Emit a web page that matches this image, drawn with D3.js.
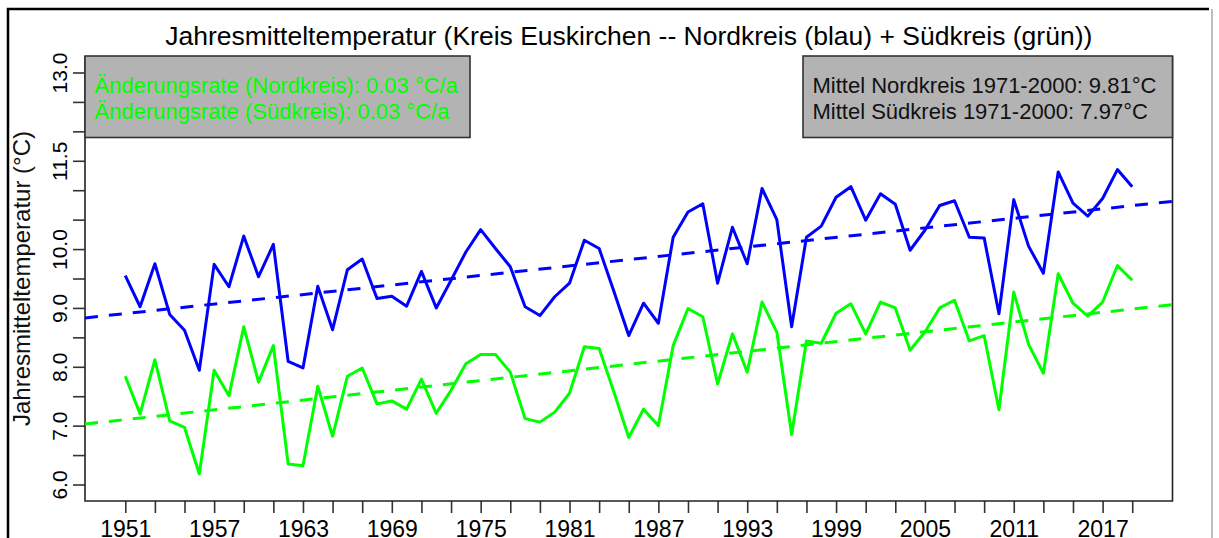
<!DOCTYPE html>
<html>
<head>
<meta charset="utf-8">
<script src="https://cdn.jsdelivr.net/npm/d3@7"></script>
<style>
body{margin:0;background:#fff;}
text{font-family:"Liberation Sans",Arial,sans-serif;}
</style>
</head>
<body>
<svg id="chart" width="1219" height="538"></svg>
<script>
// Jahresmittel
const years = d3.range(1951, 2020);
const nordkreis = [9.55, 9.02, 9.75, 8.89, 8.62, 7.94, 9.74, 9.36, 10.22, 9.53,
    10.08, 8.09, 7.98, 9.37, 8.63, 9.65, 9.83, 9.16, 9.20, 9.03,
    9.62, 9.00, 9.47, 9.95, 10.33, 10.01, 9.70, 9.02, 8.87, 9.19,
    9.42, 10.15, 10.01, 9.28, 8.53, 9.08, 8.74, 10.20, 10.63, 10.77,
    9.42, 10.37, 9.75, 11.03, 10.50, 8.68, 10.20, 10.39, 10.88, 11.06,
    10.49, 10.94, 10.76, 9.98, 10.32, 10.74, 10.82, 10.20, 10.19, 8.90,
    10.84, 10.05, 9.59, 11.31, 10.78, 10.56, 10.86, 11.35, 11.06];
const suedkreis = [7.84, 7.20, 8.12, 7.08, 6.97, 6.18, 7.94, 7.51, 8.68, 7.74,
    8.36, 6.35, 6.32, 7.67, 6.82, 7.84, 7.98, 7.37, 7.42, 7.28,
    7.79, 7.21, 7.60, 8.05, 8.21, 8.21, 7.91, 7.12, 7.06, 7.23,
    7.55, 8.34, 8.31, 7.57, 6.80, 7.28, 7.00, 8.36, 8.99, 8.85,
    7.71, 8.56, 7.91, 9.10, 8.59, 6.85, 8.44, 8.40, 8.91, 9.07,
    8.56, 9.10, 9.00, 8.28, 8.59, 9.00, 9.13, 8.44, 8.53, 7.27,
    9.27, 8.38, 7.89, 9.58, 9.08, 8.86, 9.10, 9.72, 9.47];
const yTicks = d3.range(6, 13.01, 0.5);
const yLabels = [6, 7, 8, 9, 10, 11.5, 13];
const xTicks = d3.range(1951, 2020, 2);
const xLabels = d3.range(1951, 2020, 6);
const title = "Jahresmitteltemperatur (Kreis Euskirchen -- Nordkreis (blau) + Südkreis (grün))";
const yTitle = "Jahresmitteltemperatur (°C)";
const rateLines = ["Änderungsrate (Nordkreis): 0.03 °C/a", "Änderungsrate (Südkreis): 0.03 °C/a"];
const meanLines = ["Mittel Nordkreis 1971-2000: 9.81°C", "Mittel Südkreis 1971-2000: 7.97°C"];

const svg = d3.select('#chart');
const plot = {left: 85, right: 1172.5, top: 56, bottom: 501};

// R-Stil: 4% Rand um den Datenbereich
const pad = (a, b) => [a - (b - a) * 0.04, b + (b - a) * 0.04];
const x = d3.scaleLinear().domain(pad(1951, 2019)).range([plot.left, plot.right]);
const y = d3.scaleLinear().domain(pad(6, 13)).range([plot.bottom, plot.top]);

// Aussenrahmen
svg.append('path')
    .attr('d', `M8,540V9H1209`)
    .attr('fill', 'none')
    .attr('stroke', '#000')
    .attr('stroke-width', 2.5);
svg.append('line')
    .attr('x1', 1212).attr('x2', 1212).attr('y1', 9).attr('y2', 538)
    .attr('stroke', '#aaa').attr('stroke-width', 1.5);

svg.append('text')
    .attr('x', (plot.left + plot.right) / 2)
    .attr('y', 45)
    .attr('text-anchor', 'middle')
    .attr('font-size', 26.5)
    .attr('fill', '#000')
    .text(title);

// Achsen
const xAxis = svg.append('g')
    .attr('transform', `translate(0,${plot.bottom})`)
    .call(d3.axisBottom(x).tickValues(xTicks).tickSize(12)
        .tickFormat(d => xLabels.includes(d) ? d : ''));
xAxis.select('.domain').remove();
xAxis.selectAll('line').attr('stroke', '#333').attr('stroke-width', 1.6);
xAxis.selectAll('text')
    .attr('y', 35.5).attr('dy', 0)
    .attr('font-size', 23)
    .attr('font-family', '"Liberation Sans",Arial,sans-serif')
    .attr('fill', '#000');

const yAxis = svg.append('g')
    .attr('transform', `translate(${plot.left},0)`)
    .call(d3.axisLeft(y).tickValues(yTicks).tickSize(12)
        .tickFormat(d => yLabels.includes(d) ? d3.format('.1f')(d) : ''));
yAxis.select('.domain').remove();
yAxis.selectAll('line').attr('stroke', '#333').attr('stroke-width', 1.6);
yAxis.selectAll('text')
    .attr('x', 0).attr('y', -18).attr('dy', 0)
    .attr('transform', 'rotate(-90)')
    .attr('text-anchor', 'middle')
    .attr('font-size', 21)
    .attr('font-family', '"Liberation Sans",Arial,sans-serif')
    .attr('fill', '#000');

svg.append('text')
    .attr('transform', `translate(30,${(plot.top + plot.bottom) / 2}) rotate(-90)`)
    .attr('text-anchor', 'middle')
    .attr('font-size', 24)
    .attr('fill', '#111')
    .text(yTitle);

// Rahmen links, unten, rechts
svg.append('path')
    .attr('d', `M${plot.left},${plot.top}V${plot.bottom}H${plot.right}V${plot.top}`)
    .attr('fill', 'none')
    .attr('stroke', '#222')
    .attr('stroke-width', 1.6);

svg.append('clipPath').attr('id', 'plotclip')
    .append('rect')
    .attr('x', plot.left).attr('y', plot.top)
    .attr('width', plot.right - plot.left).attr('height', plot.bottom - plot.top);

const fit = vals => {
    const mx = d3.mean(years), my = d3.mean(vals);
    const b = d3.sum(years, (t, i) => (t - mx) * (vals[i] - my)) / d3.sum(years, t => (t - mx) ** 2);
    return t => my + b * (t - mx);
};

const series = [
    {name: 'nord', values: nordkreis, color: '#0000ff'},
    {name: 'sued', values: suedkreis, color: '#00ff00'}
];

const lines = svg.append('g').attr('clip-path', 'url(#plotclip)');
const line = d3.line().x(d => x(d[0])).y(d => y(d[1]));

series.forEach(s => {
    const trend = fit(s.values);
    const ends = x.domain();
    lines.append('path')
        .attr('d', line(ends.map(t => [t, trend(t)])))
        .attr('fill', 'none')
        .attr('stroke', s.color)
        .attr('stroke-width', 3)
        .attr('stroke-dasharray', '13,11');
    lines.append('path')
        .attr('d', line(years.map((t, i) => [t, s.values[i]])))
        .attr('fill', 'none')
        .attr('stroke', s.color)
        .attr('stroke-width', 3)
        .attr('stroke-linejoin', 'round');
});

// Legendenkaesten
const box = (bx, bw, rows, color) => {
    const g = svg.append('g');
    g.append('rect')
        .attr('x', bx).attr('y', plot.top)
        .attr('width', bw).attr('height', 81.5)
        .attr('fill', '#b3b3b3')
        .attr('stroke', '#333')
        .attr('stroke-width', 1.6);
    g.selectAll('text')
        .data(rows)
        .join('text')
        .attr('x', bx + 9.5)
        .attr('y', (d, i) => 93 + i * 25.5)
        .attr('font-size', 22)
        .attr('fill', color)
        .text(d => d);
};
box(plot.left, 385, rateLines, '#00ff00');
box(803, plot.right - 803, meanLines, '#111');
</script>
</body>
</html>
